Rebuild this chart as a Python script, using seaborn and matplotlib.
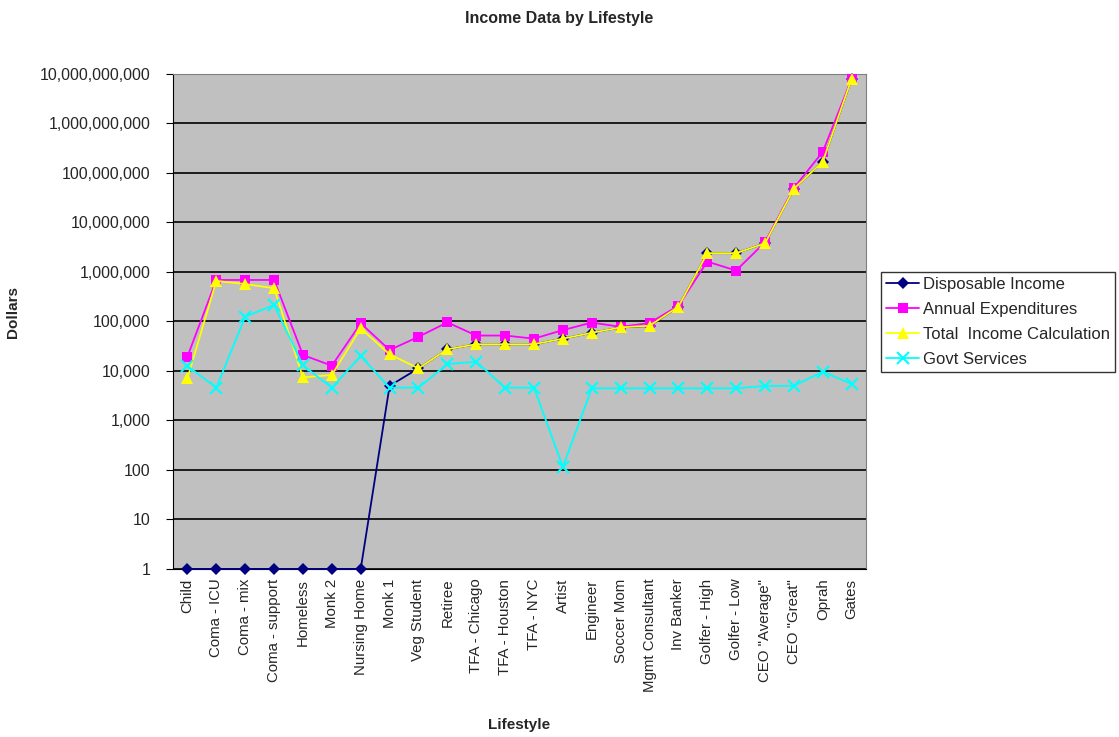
import numpy as np
import pandas as pd
import seaborn as sns
import matplotlib
matplotlib.use("Agg")
import matplotlib.pyplot as plt
from matplotlib.ticker import FixedLocator, FuncFormatter, NullFormatter

lifestyles = ['Child', 'Coma - ICU', 'Coma - mix', 'Coma - support', 'Homeless', 'Monk 2',
              'Nursing Home', 'Monk 1', 'Veg Student', 'Retiree', 'TFA - Chicago',
              'TFA - Houston', 'TFA - NYC', 'Artist', 'Engineer', 'Soccer Mom',
              'Mgmt Consultant', 'Inv Banker', 'Golfer - High', 'Golfer - Low',
              'CEO "Average"', 'CEO "Great"', 'Oprah', 'Gates']

disposable_income = [1, 1, 1, 1, 1, 1, 1, 5000, 11300, 27500, 34700, 34700, 34700, 45000,
                     59000, 76000, 81000, 199000, 2400000, 2400000, 3800000, 48000000,
                     170000000, 8000000000]
annual_expenditures = [19500, 690000, 690000, 690000, 21000, 12800, 92000, 26500, 49000,
                       96000, 52000, 52000, 45000, 67000, 95000, 78000, 93000, 208000,
                       1620000, 1070000, 4000000, 50000000, 268000000, 7950000000]
total_income = [7100, 660000, 570000, 470000, 7400, 8300, 73000, 21700, 11300, 27500,
                34700, 34700, 34700, 45000, 59000, 76000, 82000, 199000, 2400000, 2400000,
                3800000, 48000000, 170000000, 8000000000]
govt_services = [12600, 4600, 125000, 215000, 13000, 4600, 20000, 4600, 4600, 13800, 15400,
                 4600, 4600, 115, 4460, 4460, 4460, 4460, 4460, 4460, 5000, 5000, 9700, 5470]

series_names = ['Disposable Income', 'Annual Expenditures', 'Total  Income Calculation',
                'Govt Services']
series_values = [disposable_income, annual_expenditures, total_income, govt_services]
colors = ['#000080', '#FF00FF', '#FFFF00', '#00FFFF']
markers = ['D', 's', '^', 'x']
msizes = [6, 7.5, 8.5, 9]

pos = np.arange(len(lifestyles))

sns.set_style('white')
plt.rcParams['font.family'] = ['Liberation Sans', 'DejaVu Sans']

fig = plt.figure(figsize=(11.19, 7.37), dpi=100)
ax = fig.add_axes([0.1546, 0.228, 0.6194, 0.6716])
ax.set_facecolor('#C0C0C0')

for i, (name, vals) in enumerate(zip(series_names, series_values)):
    df = pd.DataFrame({'pos': pos, 'value': vals})
    mew = 1.5 if markers[i] == 'x' else 0
    sns.lineplot(data=df, x='pos', y='value', ax=ax, color=colors[i], marker=markers[i],
                 markersize=msizes[i], markeredgecolor=colors[i], markeredgewidth=mew,
                 linewidth=1.3, label=name, zorder=3 + i, clip_on=False)

ax.set_yscale('log')
ax.set_ylim(1, 1e10)
ax.set_xlim(-0.5, len(lifestyles) - 0.5)

decades = [10.0 ** k for k in range(11)]
ax.yaxis.set_major_locator(FixedLocator(decades))
ax.yaxis.set_minor_locator(FixedLocator([]))
ax.yaxis.set_major_formatter(FuncFormatter(lambda v, p: f'{int(round(v)):,}'))
ax.yaxis.grid(True, color='black', linewidth=1.2)
ax.set_axisbelow(True)

ax.set_xticks(pos)
ax.set_xticklabels(lifestyles, rotation=90, fontsize=10.8)
ax.xaxis.set_minor_locator(FixedLocator(np.arange(-0.5, len(lifestyles), 1.0)))
ax.xaxis.set_minor_formatter(NullFormatter())
ax.tick_params(axis='x', which='major', length=0, pad=7)
ax.tick_params(axis='x', which='minor', length=5, color='black', direction='out')
ax.tick_params(axis='y', which='major', length=5, color='black', direction='out',
               labelsize=11.5, pad=11)
ax.tick_params(axis='both', bottom=True, left=True)

for side in ['top', 'right']:
    ax.spines[side].set_color('#808080')
for side in ['left', 'bottom']:
    ax.spines[side].set_color('black')

ax.set_xlabel('Lifestyle', fontsize=11, fontweight='bold')
ax.set_ylabel('Dollars', fontsize=11, fontweight='bold')
ax.xaxis.set_label_coords(0.5, -0.301)
ax.yaxis.set_label_coords(-0.221, 0.52)
fig.suptitle('Income Data by Lifestyle', fontsize=11.5, fontweight='bold', y=0.985)

leg = ax.legend(loc='upper left', bbox_to_anchor=(0.7873, 0.631),
                bbox_transform=fig.transFigure, fontsize=12, frameon=True,
                fancybox=False, edgecolor='black', borderpad=0.3, labelspacing=0.6,
                handlelength=2.0, handletextpad=0.25, borderaxespad=0)
leg.get_frame().set_linewidth(1.0)

fig.savefig('out.png', dpi=100, facecolor='white')
